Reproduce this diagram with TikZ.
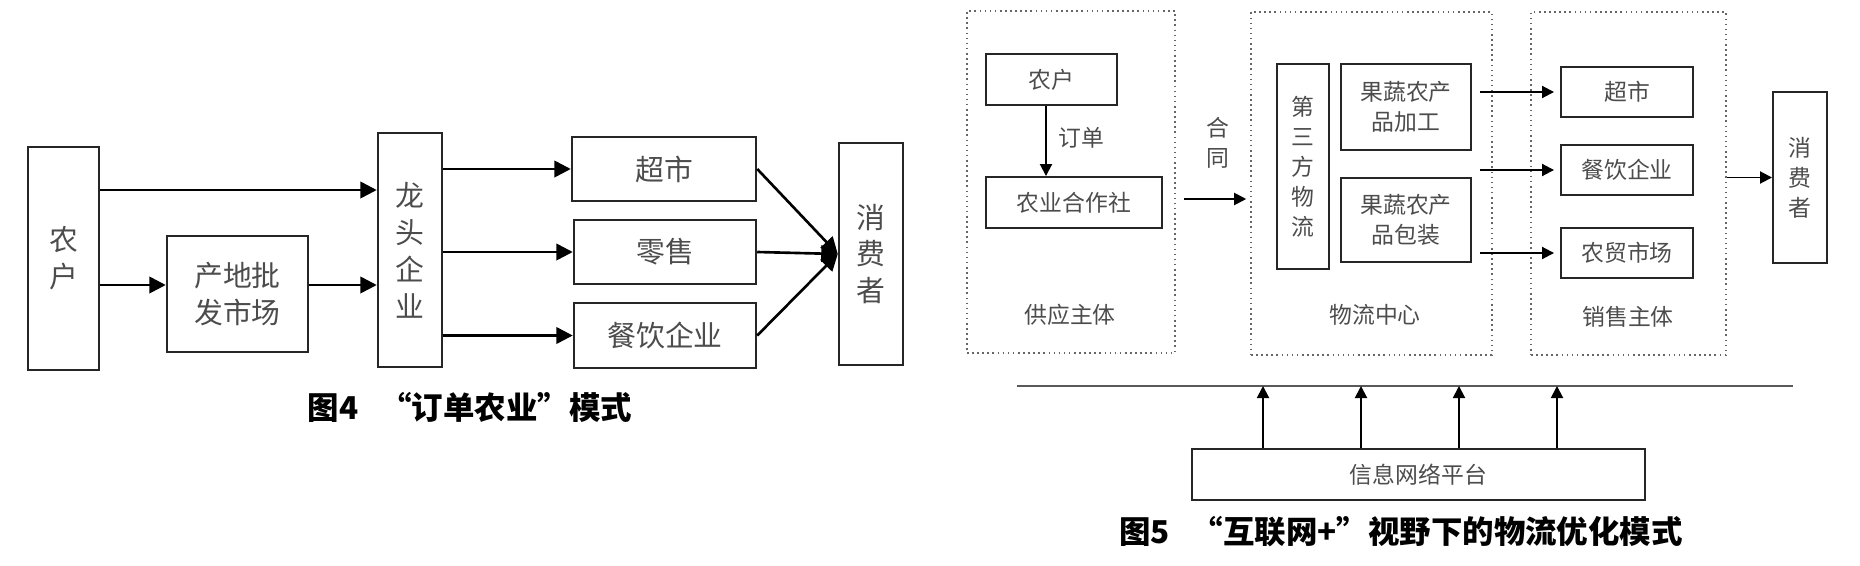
\documentclass[tikz,border=0pt]{standalone}
\usepackage{fontspec}
\newfontfamily\cjk{Noto Sans CJK SC}
\usetikzlibrary{arrows.meta,positioning}
\tikzset{
        dims/.style 2 args={minimum width=#1*0.02cm,minimum height=#2*0.02cm},
        box/.style={draw=black!85,line width=1.4pt,align=center,inner sep=0pt,text=black!70,
                font=\cjk\fontsize{16.4}{21}\selectfont},
        sbox/.style={draw=black!85,line width=1.1pt,align=center,inner sep=0pt,text=black!70,
                font=\cjk\fontsize{13}{17}\selectfont},
        zone/.style={draw=black!60,dotted,line width=0.9pt,inner sep=0pt},
        lab/.style={text=black!70,align=center,font=\cjk\fontsize{13}{17}\selectfont},
        arr/.style={-{Triangle[length=0.33cm,width=0.33cm]},line width=1.5pt},
        sarr/.style={-{Triangle[length=0.24cm,width=0.24cm]},line width=1.1pt},
        figcap/.style={font=\cjk\bfseries\fontsize{17.9}{20}\selectfont}
}
\begin{document}
\begin{tikzpicture}[x=0.02cm,y=-0.02cm]
        \useasboundingbox (0,0) rectangle (1860,565);
        % left: order farming
        \node[box,dims={71}{223}] (nonghu) at (63.5,258.5) {农\\户};
        \node[box,dims={141}{116}] (pifa) at (237.5,294) {产地批\\发市场};
        \node[box,dims={64}{234}] (longtou) at (410,250) {龙\\头\\企\\业};
        \node[box,dims={184}{64}] (chaoshi) at (664,169) {超市};
        \node[box,dims={182}{64}] (lingshou) at (665,252) {零售};
        \node[box,dims={182}{65}] (canyin) at (665,335.5) {餐饮企业};
        \node[box,dims={64}{222}] (xiaofei) at (871,254) {消\\费\\者};
        \coordinate (upper) at (0,190);
        \coordinate (lower) at (0,285);
        \draw[arr] (nonghu.east |- upper) -- (longtou.west |- upper);
        \draw[arr] (nonghu.east |- lower) -- (pifa.west |- lower);
        \draw[arr] (pifa.east |- lower) -- (longtou.west |- lower);
        \draw[arr] (longtou.east |- chaoshi) -- (chaoshi.west);
        \draw[arr] (longtou.east |- lingshou) -- (lingshou.west);
        \draw[arr] (longtou.east |- canyin) -- (canyin.west);
        \draw[arr] (chaoshi.east) -- (xiaofei.west);
        \draw[arr] (lingshou.east) -- (xiaofei.west);
        \draw[arr] (canyin.east) -- (xiaofei.west);
        \node[figcap] (fig4) at (470,407) {图4\hspace{0.7em}“订单农业”模式};

        % right: logistics under internet+
        \node[zone,dims={208}{342}] (gongying) at (1071,182) {};
        \node[zone,dims={241}{343}] (wuliu) at (1371.5,183.5) {};
        \node[zone,dims={195}{343}] (xiaoshou) at (1628.5,183.5) {};
        \node[sbox,dims={131}{51}] (nonghu2) at (1051.5,79.5) {农户};
        \node[sbox,dims={176}{51}] (hezuo) at (1074,202.5) {农业合作社};
        \node[sbox,dims={52}{205}] (disanfang) at (1303,166.5) {第\\三\\方\\物\\流};
        \node[sbox,dims={130}{86}] (jiagong) at (1406,107) {果蔬农产\\品加工};
        \node[sbox,dims={130}{84}] (baozhuang) at (1406,220) {果蔬农产\\品包装};
        \node[sbox,dims={132}{50}] (chaoshi2) at (1627,92) {超市};
        \node[sbox,dims={132}{50}] (canyin2) at (1627,170) {餐饮企业};
        \node[sbox,dims={132}{50}] (nongmao) at (1627,253) {农贸市场};
        \node[sbox,dims={54}{171}] (xiaofei2) at (1800,177.5) {消\\费\\者};
        \node[sbox,dims={453}{51}] (pingtai) at (1418.5,474.5) {信息网络平台};
        \node[lab] (dingdan) at (1081,138) {订单};
        \node[lab] (hetong) at (1218,143) {合\\同};
        \node[lab] (gylab) at (1070,315) {供应主体};
        \node[lab] (wllab) at (1375,315) {物流中心};
        \node[lab] (xslab) at (1628,317) {销售主体};
        \coordinate (contract) at (0,199);
        \draw[sarr] ([xshift=-0.11cm]nonghu2.south) -- ([xshift=-0.11cm]nonghu2.south |- hezuo.north);
        \draw[sarr,shorten <=0.16cm,shorten >=0.08cm] (gongying.east |- contract) -- (wuliu.west |- contract);
        \draw[sarr,shorten <=0.16cm,shorten >=0.12cm] (jiagong.east |- chaoshi2) -- (chaoshi2.west);
        \draw[sarr,shorten <=0.16cm,shorten >=0.12cm] (jiagong.east |- canyin2) -- (canyin2.west);
        \draw[sarr,shorten <=0.16cm,shorten >=0.12cm] (baozhuang.east |- nongmao) -- (nongmao.west);
        \draw[sarr] (xiaoshou.east |- xiaofei2) -- (xiaofei2.west);
        \coordinate (railL) at (1017,386);
        \coordinate (railR) at (1793,386);
        \draw[black!65,line width=1pt] (railL) -- (railR);
        \foreach \x in {1263,1361,1459,1557}
                \draw[sarr] (pingtai.north -| \x,0) -- (railL -| \x,0);
        \node[figcap] (fig5) at (1401,532) {图5\hspace{0.7em}“互联网+”视野下的物流优化模式};
\end{tikzpicture}
\end{document}
